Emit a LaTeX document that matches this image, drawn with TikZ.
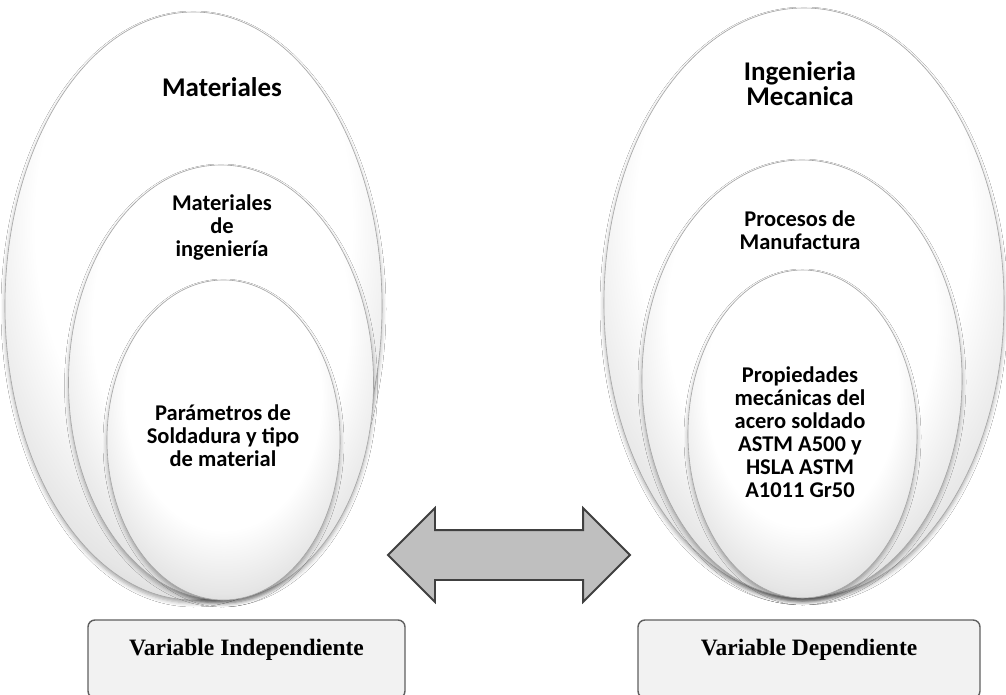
\documentclass[tikz,border=0pt]{standalone}
\usepackage{fontspec}
\setmainfont{Carlito}
\newfontfamily\varfont{Liberation Serif}
\usetikzlibrary{positioning,shapes.geometric,shapes.arrows,shadows.blur}
\definecolor{oLine}{RGB}{165,165,165}
\definecolor{bFill}{RGB}{242,242,242}
\definecolor{bLine}{RGB}{96,96,96}
\definecolor{aFill}{RGB}{191,191,191}
\definecolor{aLine}{RGB}{64,64,64}
\pgfdeclareradialshading{ovalshade}{\pgfpoint{0bp}{12bp}}{%
  color(0bp)=(white); color(21bp)=(white); color(29bp)=(black!10);
  color(38bp)=(black!33); color(50bp)=(black!33)}
\tikzset{
  oval/.style={ellipse, draw=oLine, line width=0.6pt, shading=ovalshade,
               inner sep=0pt, outer sep=0pt,
               blur shadow={shadow xshift=0pt, shadow yshift=-3pt,
                            shadow blur radius=4pt, shadow opacity=35}},
  toplbl/.style={align=center, inner sep=0pt,
                 font=\fontsize{27}{25}\selectfont\bfseries},
  lbl/.style={align=center, inner sep=0pt,
              font=\fontsize{22.5}{23}\selectfont\bfseries},
  varbox/.style={rectangle, rounded corners=7pt, draw=bLine, fill=bFill,
                 line width=1.4pt, minimum height=78pt,
                 text height=16pt, text depth=23pt,
                 font=\varfont\fontsize{23.5}{23.5}\selectfont\bfseries},
  link/.style={double arrow, draw=aLine, fill=aFill, line width=1.8pt,
               minimum height=242pt, inner xsep=0pt, inner ysep=24pt,
               double arrow head extend=22pt, double arrow tip angle=90},
}

\begin{document}
\begin{tikzpicture}[x=1pt, y=-1pt]
  \useasboundingbox[fill=white] (0,0) rectangle (1006,695);

  % independent side
  \node[oval, minimum width=377pt, minimum height=588pt] (matA) at (193.5,306) {};
  \node[oval, minimum width=305pt, minimum height=435pt] (matB) at (221,382.5) {};
  \node[oval, minimum width=233pt, minimum height=320pt] (matC) at (223.5,440) {};
  \node[toplbl] (matAt) at (222,87) {Materiales};
  \node[lbl] (matBt) at (222,228) {Materiales\\de\\ingeniería};
  \node[lbl] (matCt) at (223,436) {Parámetros de\\Soldadura y tipo\\de material};

  % dependent side
  \node[oval, minimum width=400pt, minimum height=590pt] (ingA) at (804,303) {};
  \node[oval, minimum width=320pt, minimum height=438pt] (ingB) at (802,379) {};
  \node[oval, minimum width=229pt, minimum height=328pt] (ingC) at (802.5,434) {};
  \node[toplbl] (ingAt) at (800,84) {Ingenieria\\Mecanica};
  \node[lbl] (ingBt) at (800,230) {Procesos de\\Manufactura};
  \node[lbl] (ingCt) at (800,432) {Propiedades\\mecánicas del\\acero soldado\\ASTM A500 y\\HSLA ASTM\\A1011 Gr50};

  % relation between both
  \node[link] (rel) at (509,555) {};

  \node[varbox, minimum width=317pt] (indep) at (246.5,659) {Variable Independiente};
  \node[varbox, minimum width=342pt] (dep) at (809,659) {Variable Dependiente};
\end{tikzpicture}
\end{document}
